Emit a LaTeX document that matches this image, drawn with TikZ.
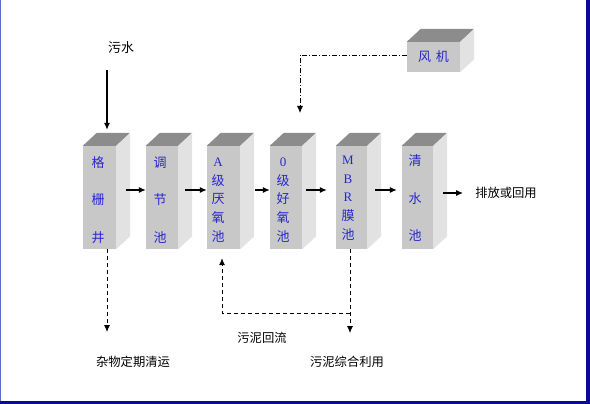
\documentclass[tikz,border=0pt]{standalone}
\usepackage{fontspec}
\setmainfont{Liberation Serif}
\newfontfamily\cjk{Noto Sans CJK SC}
\newfontfamily\latf{Liberation Serif}
\usetikzlibrary{arrows.meta,calc}
\definecolor{boxblue}{RGB}{40,40,200}
\definecolor{frontgray}{RGB}{200,200,200}
\definecolor{topgray}{RGB}{140,140,140}
\definecolor{sidegray}{RGB}{226,226,226}
\definecolor{bordernavy}{RGB}{10,10,150}
\definecolor{borderlight}{RGB}{90,110,210}
\newcommand\mkbox[1]{%
  \fill[topgray] (#1.north west) -- (#1.north east) -- ++(14,-13) -- ($(#1.north west)+(14,-13)$) -- cycle;
  \fill[sidegray] (#1.north east) -- ++(14,-13) -- ($(#1.south east)+(14,-13)$) -- (#1.south east) -- cycle;
}
\begin{document}
\begin{tikzpicture}[x=1pt,y=-1pt,
  boxface/.style={fill=frontgray, draw=none, inner sep=0pt, minimum width=32pt, minimum height=103pt},
  boxtext/.style={text=boxblue, font=\cjk\fontsize{13}{18.7}\selectfont, align=center, inner sep=0pt},
  boxtextwide/.style={text=boxblue, font=\cjk\fontsize{13}{37.2}\selectfont, align=center, inner sep=0pt},
  lab/.style={font=\cjk\fontsize{12.3}{14}\selectfont, text=black, inner sep=0pt},
  arr/.style={-{Latex[length=7pt,width=6pt]}, line width=1.1pt},
  dsh/.style={-{Latex[length=7pt,width=6pt]}, line width=0.85pt, dash pattern=on 4pt off 3pt},
  ddot/.style={-{Latex[length=7pt,width=6pt]}, line width=0.85pt, dash pattern=on 5pt off 2pt on 1pt off 2pt}
]
\useasboundingbox (0,0) rectangle (590,404);
\fill[white] (0,0) rectangle (590,404);

% boxes
\node[boxface, minimum width=33pt] (b1) at (99.5,197.5) {};
\node[boxface] (b2) at (162,197.5) {};
\node[boxface, minimum width=33pt] (b3) at (223.5,197.5) {};
\node[boxface] (b4) at (286,197.5) {};
\node[boxface, minimum width=31pt] (b5) at (351.5,197.5) {};
\node[boxface, minimum width=31pt] (b6) at (417.5,197.5) {};
\node[boxface, minimum width=53pt, minimum height=30pt, text=boxblue, font=\cjk\fontsize{13}{14}\selectfont] (fan) at (433.5,57) {风\hspace{5pt}机};
\mkbox{b1}\mkbox{b2}\mkbox{b3}\mkbox{b4}\mkbox{b5}\mkbox{b6}\mkbox{fan}

% box texts
\node[boxtextwide] (t1) at (98,200) {格\\栅\\井};
\node[boxtextwide] (t2) at (160,200) {调\\节\\池};
\node[boxtext] (t3) at (218,200) {{\latf A}\\级\\厌\\氧\\池};
\node[boxtext] (t4) at (283,200) {{\latf 0}\\级\\好\\氧\\池};
\node[boxtext] (t5) at (348,198) {{\latf M}\\{\latf B}\\{\latf R}\\膜\\池};
\node[boxtextwide] (t6) at (415,198) {清\\水\\池};

% labels
\node[lab, font=\cjk\fontsize{13}{14}\selectfont] (lsw) at (121,48) {污水};
\node[lab] (lout) at (506,193) {排放或回用};
\node[lab] (lzw) at (133,362) {杂物定期清运};
\node[lab] (lhl) at (262,338) {污泥回流};
\node[lab] (lzh) at (347,362) {污泥综合利用};

% coordinates for free ends
\coordinate (swtop) at (107,70);
\coordinate (fanend) at (300,113);
\coordinate (junk) at (107,332);
\coordinate (mbrend) at (350,333);
\coordinate (ret) at (350,313);

% main flow
\draw[arr] (swtop) -- ([xshift=7.5pt,yshift=16pt]b1.north);
\draw[arr] ([shift={(10pt,7.5pt)}]b1.east) -- ([yshift=7.5pt]b2.west);
\draw[arr] ([shift={(7pt,7.5pt)}]b2.east) -- ([yshift=7.5pt]b3.west);
\draw[arr] ([shift={(15pt,7.5pt)}]b3.east) -- ([yshift=7.5pt]b4.west);
\draw[arr] ([shift={(4pt,7.5pt)}]b4.east) -- ([shift={(-9pt,7.5pt)}]b5.west);
\draw[arr] ([shift={(8pt,7.5pt)}]b5.east) -- ([shift={(-5pt,7.5pt)}]b6.west);
\draw[arr] ([shift={(10pt,4.5pt)}]b6.east) -- ([xshift=-12pt]lout.west);

% air
\draw[ddot] ([yshift=2pt]fan.west) -| (fanend);

% bottom dashed
\draw[dsh] ([xshift=7.5pt]b1.south) -- (junk);
\draw[dsh] ([xshift=-1.5pt]b5.south) -- (mbrend);
\draw[dsh] (ret) -| ([shift={(-1.5pt,-9pt)}]b3.south);

% border
\fill[bordernavy] (586,0) rectangle (590,404);
\fill[bordernavy] (0,401) rectangle (590,404);
\draw[borderlight, line width=1.2pt] (0.6,0) -- (0.6,401);
\end{tikzpicture}
\end{document}
